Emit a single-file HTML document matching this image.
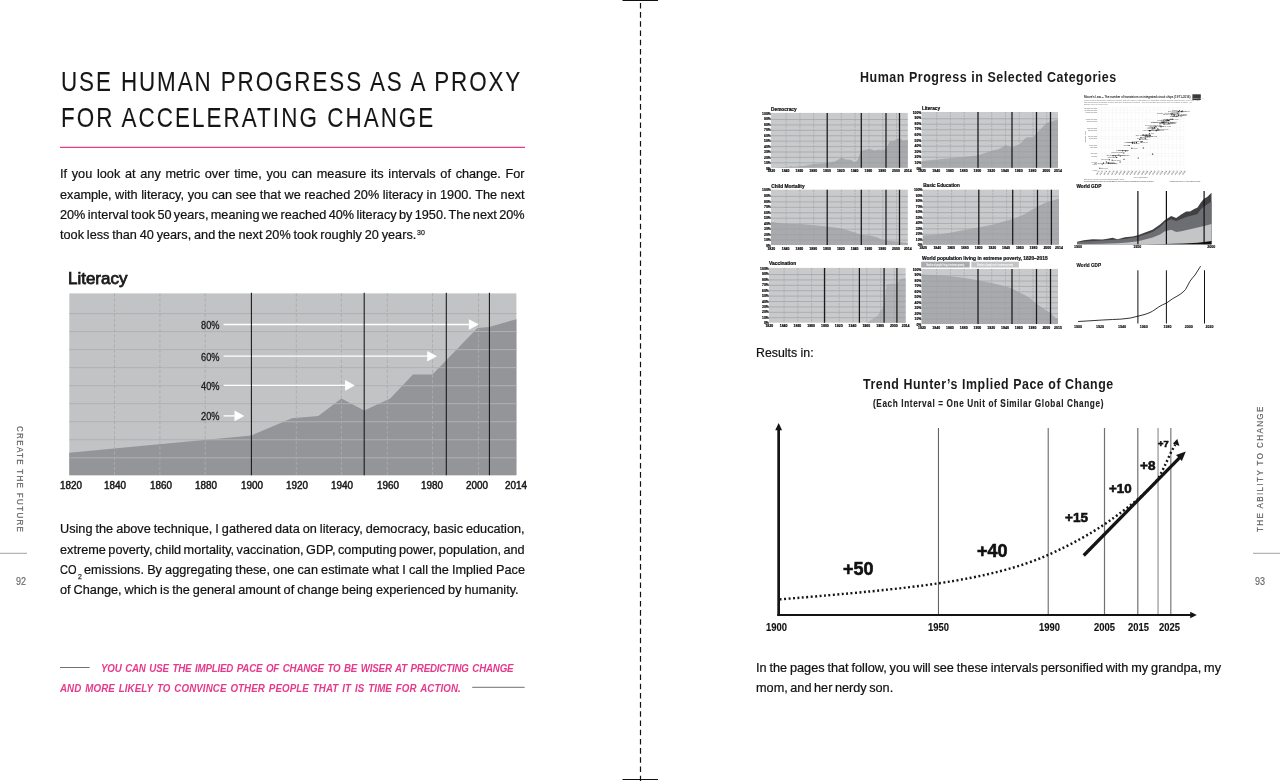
<!DOCTYPE html>
<html lang="en">
<head>
<meta charset="utf-8">
<title>Use Human Progress as a Proxy for Accelerating Change</title>
<style>
html,body{margin:0;padding:0;background:#fff;}
body{width:1280px;height:781px;position:relative;overflow:hidden;font-family:"Liberation Sans",sans-serif;}
.t{position:absolute;white-space:pre;line-height:1;transform-origin:0 0;}
svg.g{position:absolute;left:0;top:0;}
</style>
</head>
<body>
<svg class="g" width="1280" height="781" viewBox="0 0 1280 781">
<g id="frame">
<line x1="640.5" x2="640.5" y1="2.9" y2="781" stroke="#111" stroke-width="1.2" stroke-dasharray="5.55,3.65"/>
<rect x="622.5" y="0" width="35.5" height="1" fill="#111"/>
<rect x="622.5" y="779" width="35.5" height="1" fill="#111"/>
<line x1="60" x2="525" y1="147.4" y2="147.4" stroke="#e6398b" stroke-width="1.1"/>
<line x1="60" x2="89.6" y1="667.5" y2="667.5" stroke="#707072" stroke-width="1"/>
<line x1="472.2" x2="524.6" y1="687.3" y2="687.3" stroke="#707072" stroke-width="1"/>
<line x1="0" x2="27" y1="553.3" y2="553.3" stroke="#999" stroke-width="0.9"/>
<line x1="1253" x2="1280" y1="553.3" y2="553.3" stroke="#999" stroke-width="0.9"/>
</g>
<g id="literacy-chart">
<rect x="69.3" y="293.4" width="447.1" height="181.8" fill="#c2c3c5"/>
<path d="M69.3,475.2 L69.25,452.8 L251.3,435.4 L291.9,418.3 L318.3,415.9 L341.4,398.4 L364.2,410.6 L390.2,398.4 L413,374.4 L432.4,374.4 L477.5,328.1 L489.3,326.9 L516.4,319.2 L516.4,475.2 Z" fill="#949598"/>
<line x1="69.3" x2="516.4" y1="457.80" y2="457.80" stroke="#b0b1b4" stroke-width="1"/>
<line x1="69.3" x2="516.4" y1="439.77" y2="439.77" stroke="#b0b1b4" stroke-width="1"/>
<line x1="69.3" x2="516.4" y1="421.74" y2="421.74" stroke="#b0b1b4" stroke-width="1"/>
<line x1="69.3" x2="516.4" y1="403.71" y2="403.71" stroke="#b0b1b4" stroke-width="1"/>
<line x1="69.3" x2="516.4" y1="385.68" y2="385.68" stroke="#b0b1b4" stroke-width="1"/>
<line x1="69.3" x2="516.4" y1="367.65" y2="367.65" stroke="#b0b1b4" stroke-width="1"/>
<line x1="69.3" x2="516.4" y1="349.62" y2="349.62" stroke="#b0b1b4" stroke-width="1"/>
<line x1="69.3" x2="516.4" y1="331.59" y2="331.59" stroke="#b0b1b4" stroke-width="1"/>
<line x1="69.3" x2="516.4" y1="313.56" y2="313.56" stroke="#b0b1b4" stroke-width="1"/>
<line x1="114.5" x2="114.5" y1="293.4" y2="475.2" stroke="#abacaf" stroke-width="0.9" stroke-dasharray="3.2,1.9"/>
<line x1="159.9" x2="159.9" y1="293.4" y2="475.2" stroke="#abacaf" stroke-width="0.9" stroke-dasharray="3.2,1.9"/>
<line x1="205.2" x2="205.2" y1="293.4" y2="475.2" stroke="#abacaf" stroke-width="0.9" stroke-dasharray="3.2,1.9"/>
<line x1="296.3" x2="296.3" y1="293.4" y2="475.2" stroke="#abacaf" stroke-width="0.9" stroke-dasharray="3.2,1.9"/>
<line x1="341.4" x2="341.4" y1="293.4" y2="475.2" stroke="#abacaf" stroke-width="0.9" stroke-dasharray="3.2,1.9"/>
<line x1="387.3" x2="387.3" y1="293.4" y2="475.2" stroke="#abacaf" stroke-width="0.9" stroke-dasharray="3.2,1.9"/>
<line x1="432.5" x2="432.5" y1="293.4" y2="475.2" stroke="#abacaf" stroke-width="0.9" stroke-dasharray="3.2,1.9"/>
<line x1="478.5" x2="478.5" y1="293.4" y2="475.2" stroke="#abacaf" stroke-width="0.9" stroke-dasharray="3.2,1.9"/>
<line x1="223.6" x2="470.7" y1="324.5" y2="324.5" stroke="#fff" stroke-width="1.3"/>
<path d="M478.7,324.5 L468.9,319.2 L468.9,329.8 Z" fill="#fff"/>
<line x1="223.6" x2="429.0" y1="356.2" y2="356.2" stroke="#fff" stroke-width="1.3"/>
<path d="M437.0,356.2 L427.2,350.9 L427.2,361.5 Z" fill="#fff"/>
<line x1="223.6" x2="346.9" y1="385.4" y2="385.4" stroke="#fff" stroke-width="1.3"/>
<path d="M354.9,385.4 L345.09999999999997,380.09999999999997 L345.09999999999997,390.7 Z" fill="#fff"/>
<line x1="223.6" x2="236.3" y1="415.9" y2="415.9" stroke="#fff" stroke-width="1.3"/>
<path d="M244.3,415.9 L234.5,410.59999999999997 L234.5,421.2 Z" fill="#fff"/>
<line x1="251.4" x2="251.4" y1="292.79999999999995" y2="475.2" stroke="#151515" stroke-width="1.05"/>
<line x1="364.2" x2="364.2" y1="292.79999999999995" y2="475.2" stroke="#151515" stroke-width="1.05"/>
<line x1="446.3" x2="446.3" y1="292.79999999999995" y2="475.2" stroke="#151515" stroke-width="1.05"/>
<line x1="489.4" x2="489.4" y1="292.79999999999995" y2="475.2" stroke="#151515" stroke-width="1.05"/>
</g>
<g id="small-charts">
<rect x="771.0" y="112.9" width="136.8" height="54.9" fill="#c9cacc"/>
<path d="M771.0,167.8 L771.0,167.8 L789.9,166.7 L791.2,165.8 L792.5,166.7 L803.1,166.1 L813.5,164.1 L827.4,163.0 L835.0,161.4 L841.7,157.4 L845.6,159.4 L851.0,159.7 L854.9,162.7 L857.6,160.1 L860.9,150.8 L866.9,149.5 L869.5,148.8 L874.9,150.8 L877.5,149.7 L884.2,150.1 L886.8,147.5 L889.5,141.5 L894.8,140.8 L897.4,138.6 L900.8,138.8 L902.8,140.8 L907.8,139.9 L907.8,167.8 Z" fill="#a9aaad"/>
<path d="M771.0,162.80H907.8 M771.0,157.40H907.8 M771.0,151.99H907.8 M771.0,146.58H907.8 M771.0,141.17H907.8 M771.0,135.77H907.8 M771.0,130.36H907.8 M771.0,124.95H907.8 M771.0,119.54H907.8" stroke="#9c9da0" stroke-width="0.65" fill="none"/>
<path d="M786.10,112.9V167.8 M799.91,112.9V167.8 M813.71,112.9V167.8 M827.51,112.9V167.8 M841.32,112.9V167.8 M855.12,112.9V167.8 M868.92,112.9V167.8 M882.72,112.9V167.8 M896.53,112.9V167.8" stroke="#a0a1a4" stroke-width="0.6" stroke-dasharray="2.2,1.0" fill="none"/>
<path d="M827.2,112.9V167.8 M861.3,112.9V167.8 M886.0,112.9V167.8 M899.5,112.9V167.8" stroke="#1a1a1a" stroke-width="1.25" fill="none"/>
<g font-size="3.4" font-weight="bold" fill="#000" stroke="#000" stroke-width="0.15" text-anchor="end">
<text x="770.8" y="169.5">0%</text>
<text x="770.8" y="164.0">10%</text>
<text x="770.8" y="158.5">20%</text>
<text x="770.8" y="153.0">30%</text>
<text x="770.8" y="147.5">40%</text>
<text x="770.8" y="142.1">50%</text>
<text x="770.8" y="136.6">60%</text>
<text x="770.8" y="131.1">70%</text>
<text x="770.8" y="125.6">80%</text>
<text x="770.8" y="120.1">90%</text>
<text x="770.8" y="114.6">100%</text>
</g>
<g font-size="3.5" font-weight="bold" fill="#000" stroke="#000" stroke-width="0.15" text-anchor="middle">
<text x="771.3" y="172.2">1820</text>
<text x="785.6" y="172.2">1840</text>
<text x="799.4" y="172.2">1860</text>
<text x="813.2" y="172.2">1880</text>
<text x="827.0" y="172.2">1900</text>
<text x="840.8" y="172.2">1920</text>
<text x="854.6" y="172.2">1940</text>
<text x="868.4" y="172.2">1960</text>
<text x="882.2" y="172.2">1980</text>
<text x="896.0" y="172.2">2000</text>
<text x="907.8" y="172.2">2014</text>
</g>
<text x="771.1" y="110.5" font-size="5.4" font-weight="bold" fill="#111" stroke="#111" stroke-width="0.22" textLength="25.5" lengthAdjust="spacingAndGlyphs">Democracy</text>
<rect x="921.6" y="112.0" width="136.4" height="55.8" fill="#c9cacc"/>
<path d="M921.6,167.8 L921.6,161.0 L977.9,155.4 L991.6,150.8 L998.2,149.2 L1006.2,145.2 L1011.9,147.5 L1019.5,144.2 L1026.1,137.5 L1032.8,137.2 L1036.5,133.5 L1046.0,123.6 L1050.4,121.6 L1058.0,119.6 L1058.0,167.8 Z" fill="#a9aaad"/>
<path d="M921.6,162.72H1058.0 M921.6,157.23H1058.0 M921.6,151.73H1058.0 M921.6,146.23H1058.0 M921.6,140.74H1058.0 M921.6,135.24H1058.0 M921.6,129.74H1058.0 M921.6,124.25H1058.0 M921.6,118.75H1058.0" stroke="#9c9da0" stroke-width="0.65" fill="none"/>
<path d="M936.66,112.0V167.8 M950.42,112.0V167.8 M964.18,112.0V167.8 M977.95,112.0V167.8 M991.71,112.0V167.8 M1005.47,112.0V167.8 M1019.24,112.0V167.8 M1033.00,112.0V167.8 M1046.76,112.0V167.8" stroke="#a0a1a4" stroke-width="0.6" stroke-dasharray="2.2,1.0" fill="none"/>
<path d="M978.0,112.0V167.8 M1012.0,112.0V167.8 M1036.5,112.0V167.8 M1050.5,112.0V167.8" stroke="#1a1a1a" stroke-width="1.25" fill="none"/>
<g font-size="3.4" font-weight="bold" fill="#000" stroke="#000" stroke-width="0.15" text-anchor="end">
<text x="921.4" y="169.5">0%</text>
<text x="921.4" y="163.9">10%</text>
<text x="921.4" y="158.3">20%</text>
<text x="921.4" y="152.8">30%</text>
<text x="921.4" y="147.2">40%</text>
<text x="921.4" y="141.6">50%</text>
<text x="921.4" y="136.0">60%</text>
<text x="921.4" y="130.4">70%</text>
<text x="921.4" y="124.9">80%</text>
<text x="921.4" y="119.3">90%</text>
<text x="921.4" y="113.7">100%</text>
</g>
<g font-size="3.5" font-weight="bold" fill="#000" stroke="#000" stroke-width="0.15" text-anchor="middle">
<text x="921.9" y="172.2">1820</text>
<text x="936.2" y="172.2">1840</text>
<text x="949.9" y="172.2">1860</text>
<text x="963.7" y="172.2">1880</text>
<text x="977.4" y="172.2">1900</text>
<text x="991.2" y="172.2">1920</text>
<text x="1005.0" y="172.2">1940</text>
<text x="1018.7" y="172.2">1960</text>
<text x="1032.5" y="172.2">1980</text>
<text x="1046.3" y="172.2">2000</text>
<text x="1058.0" y="172.2">2014</text>
</g>
<text x="921.9" y="110.2" font-size="5.4" font-weight="bold" fill="#111" stroke="#111" stroke-width="0.22" textLength="18.2" lengthAdjust="spacingAndGlyphs">Literacy</text>
<rect x="771.0" y="189.7" width="136.8" height="55.4" fill="#c9cacc"/>
<path d="M771.0,245.1 L771.0,221.9 L784.5,223.8 L803.1,224.2 L813.5,225.2 L827.4,226.5 L841.7,228.5 L848.3,230.5 L854.9,232.5 L861.3,234.9 L869.5,235.4 L876.2,237.1 L881.5,239.4 L886.0,240.5 L896.1,241.5 L899.6,242.0 L907.8,243.1 L907.8,245.1 Z" fill="#a9aaad"/>
<path d="M771.0,240.06H907.8 M771.0,234.60H907.8 M771.0,229.14H907.8 M771.0,223.69H907.8 M771.0,218.23H907.8 M771.0,212.77H907.8 M771.0,207.32H907.8 M771.0,201.86H907.8 M771.0,196.40H907.8" stroke="#9c9da0" stroke-width="0.65" fill="none"/>
<path d="M786.10,189.7V245.1 M799.91,189.7V245.1 M813.71,189.7V245.1 M827.51,189.7V245.1 M841.32,189.7V245.1 M855.12,189.7V245.1 M868.92,189.7V245.1 M882.72,189.7V245.1 M896.53,189.7V245.1" stroke="#a0a1a4" stroke-width="0.6" stroke-dasharray="2.2,1.0" fill="none"/>
<path d="M827.2,189.7V245.1 M861.3,189.7V245.1 M886.0,189.7V245.1 M899.5,189.7V245.1" stroke="#1a1a1a" stroke-width="1.25" fill="none"/>
<g font-size="3.4" font-weight="bold" fill="#000" stroke="#000" stroke-width="0.15" text-anchor="end">
<text x="770.8" y="246.8">0%</text>
<text x="770.8" y="241.3">10%</text>
<text x="770.8" y="235.7">20%</text>
<text x="770.8" y="230.2">30%</text>
<text x="770.8" y="224.6">40%</text>
<text x="770.8" y="219.1">50%</text>
<text x="770.8" y="213.6">60%</text>
<text x="770.8" y="208.0">70%</text>
<text x="770.8" y="202.5">80%</text>
<text x="770.8" y="196.9">90%</text>
<text x="770.8" y="191.4">100%</text>
</g>
<g font-size="3.5" font-weight="bold" fill="#000" stroke="#000" stroke-width="0.15" text-anchor="middle">
<text x="771.3" y="249.5">1820</text>
<text x="785.6" y="249.5">1840</text>
<text x="799.4" y="249.5">1860</text>
<text x="813.2" y="249.5">1880</text>
<text x="827.0" y="249.5">1900</text>
<text x="840.8" y="249.5">1920</text>
<text x="854.6" y="249.5">1940</text>
<text x="868.4" y="249.5">1960</text>
<text x="882.2" y="249.5">1980</text>
<text x="896.0" y="249.5">2000</text>
<text x="907.8" y="249.5">2014</text>
</g>
<text x="771.2" y="188.3" font-size="5.4" font-weight="bold" fill="#111" stroke="#111" stroke-width="0.22" textLength="33.4" lengthAdjust="spacingAndGlyphs">Child Mortality</text>
<rect x="922.8" y="189.7" width="136.2" height="55.0" fill="#c9cacc"/>
<path d="M922.8,244.7 L922.8,235.4 L937.2,234.5 L951.8,232.5 L965.1,229.8 L978.7,227.4 L993.0,224.5 L1006.2,220.8 L1012.8,218.9 L1019.5,216.5 L1026.2,213.2 L1032.8,209.2 L1037.5,206.6 L1046.1,202.6 L1051.4,200.9 L1059.0,198.6 L1059.0,244.7 Z" fill="#a9aaad"/>
<path d="M922.8,239.69H1059.0 M922.8,234.28H1059.0 M922.8,228.86H1059.0 M922.8,223.44H1059.0 M922.8,218.02H1059.0 M922.8,212.61H1059.0 M922.8,207.19H1059.0 M922.8,201.77H1059.0 M922.8,196.35H1059.0" stroke="#9c9da0" stroke-width="0.65" fill="none"/>
<path d="M937.84,189.7V244.7 M951.58,189.7V244.7 M965.32,189.7V244.7 M979.06,189.7V244.7 M992.81,189.7V244.7 M1006.55,189.7V244.7 M1020.29,189.7V244.7 M1034.03,189.7V244.7 M1047.78,189.7V244.7" stroke="#a0a1a4" stroke-width="0.6" stroke-dasharray="2.2,1.0" fill="none"/>
<path d="M978.8,189.7V244.7 M1012.7,189.7V244.7 M1037.5,189.7V244.7 M1051.4,189.7V244.7" stroke="#1a1a1a" stroke-width="1.25" fill="none"/>
<g font-size="3.4" font-weight="bold" fill="#000" stroke="#000" stroke-width="0.15" text-anchor="end">
<text x="922.6" y="246.4">0%</text>
<text x="922.6" y="240.9">10%</text>
<text x="922.6" y="235.4">20%</text>
<text x="922.6" y="229.9">30%</text>
<text x="922.6" y="224.4">40%</text>
<text x="922.6" y="218.9">50%</text>
<text x="922.6" y="213.4">60%</text>
<text x="922.6" y="207.9">70%</text>
<text x="922.6" y="202.4">80%</text>
<text x="922.6" y="196.9">90%</text>
<text x="922.6" y="191.4">100%</text>
</g>
<g font-size="3.5" font-weight="bold" fill="#000" stroke="#000" stroke-width="0.15" text-anchor="middle">
<text x="923.1" y="249.1">1820</text>
<text x="937.3" y="249.1">1840</text>
<text x="951.1" y="249.1">1860</text>
<text x="964.8" y="249.1">1880</text>
<text x="978.6" y="249.1">1900</text>
<text x="992.3" y="249.1">1920</text>
<text x="1006.0" y="249.1">1940</text>
<text x="1019.8" y="249.1">1960</text>
<text x="1033.5" y="249.1">1980</text>
<text x="1047.3" y="249.1">2000</text>
<text x="1059.0" y="249.1">2014</text>
</g>
<text x="923.2" y="187.2" font-size="5.4" font-weight="bold" fill="#111" stroke="#111" stroke-width="0.22" textLength="36.6" lengthAdjust="spacingAndGlyphs">Basic Education</text>
<rect x="769.0" y="267.9" width="136.6" height="54.8" fill="#c9cacc"/>
<path d="M866.8,322.7 L866.8,322.7 L877.5,315.8 L882.8,307.8 L884.1,303.8 L886.7,284.5 L889.4,283.9 L892.7,283.6 L894.1,284.5 L896.0,283.2 L896.8,283.9 L900.0,279.2 L905.6,277.9 L905.6,322.7 Z" fill="#b1b2b5"/>
<path d="M769.0,317.71H905.6 M769.0,312.32H905.6 M769.0,306.92H905.6 M769.0,301.52H905.6 M769.0,296.12H905.6 M769.0,290.72H905.6 M769.0,285.33H905.6 M769.0,279.93H905.6 M769.0,274.53H905.6" stroke="#9c9da0" stroke-width="0.65" fill="none"/>
<path d="M784.08,267.9V322.7 M797.86,267.9V322.7 M811.65,267.9V322.7 M825.43,267.9V322.7 M839.21,267.9V322.7 M853.00,267.9V322.7 M866.78,267.9V322.7 M880.56,267.9V322.7 M894.34,267.9V322.7" stroke="#a0a1a4" stroke-width="0.6" stroke-dasharray="2.2,1.0" fill="none"/>
<path d="M824.5,267.9V322.7 M859.4,267.9V322.7 M884.1,267.9V322.7 M896.9,267.9V322.7" stroke="#1a1a1a" stroke-width="1.25" fill="none"/>
<g font-size="3.4" font-weight="bold" fill="#000" stroke="#000" stroke-width="0.15" text-anchor="end">
<text x="768.8" y="324.4">0%</text>
<text x="768.8" y="318.9">10%</text>
<text x="768.8" y="313.4">20%</text>
<text x="768.8" y="308.0">30%</text>
<text x="768.8" y="302.5">40%</text>
<text x="768.8" y="297.0">50%</text>
<text x="768.8" y="291.5">60%</text>
<text x="768.8" y="286.0">70%</text>
<text x="768.8" y="280.6">80%</text>
<text x="768.8" y="275.1">90%</text>
<text x="768.8" y="269.6">100%</text>
</g>
<g font-size="3.5" font-weight="bold" fill="#000" stroke="#000" stroke-width="0.15" text-anchor="middle">
<text x="769.3" y="327.1">1820</text>
<text x="783.6" y="327.1">1840</text>
<text x="797.4" y="327.1">1860</text>
<text x="811.1" y="327.1">1880</text>
<text x="824.9" y="327.1">1900</text>
<text x="838.7" y="327.1">1920</text>
<text x="852.5" y="327.1">1940</text>
<text x="866.3" y="327.1">1960</text>
<text x="880.1" y="327.1">1980</text>
<text x="893.8" y="327.1">2000</text>
<text x="905.6" y="327.1">2014</text>
</g>
<text x="769.0" y="264.8" font-size="5.4" font-weight="bold" fill="#111" stroke="#111" stroke-width="0.22" textLength="27.2" lengthAdjust="spacingAndGlyphs">Vaccination</text>
<rect x="921.6" y="268.9" width="136.4" height="55.2" fill="#c9cacc"/>
<path d="M921.6,324.1 L921.6,274.6 L937.1,275.3 L953.1,276.6 L965.0,277.9 L977.9,280.3 L992.9,283.2 L1006.2,286.5 L1011.9,288.5 L1019.5,292.5 L1026.1,295.8 L1031.4,299.2 L1036.5,303.8 L1043.4,308.4 L1050.4,313.1 L1055.3,317.7 L1058.0,318.4 L1058.0,324.1 Z" fill="#a9aaad"/>
<path d="M921.6,319.08H1058.0 M921.6,313.64H1058.0 M921.6,308.20H1058.0 M921.6,302.77H1058.0 M921.6,297.33H1058.0 M921.6,291.89H1058.0 M921.6,286.45H1058.0 M921.6,281.02H1058.0 M921.6,275.58H1058.0" stroke="#9c9da0" stroke-width="0.65" fill="none"/>
<path d="M936.66,268.9V324.1 M950.42,268.9V324.1 M964.18,268.9V324.1 M977.95,268.9V324.1 M991.71,268.9V324.1 M1005.47,268.9V324.1 M1019.24,268.9V324.1 M1033.00,268.9V324.1 M1046.76,268.9V324.1" stroke="#a0a1a4" stroke-width="0.6" stroke-dasharray="2.2,1.0" fill="none"/>
<path d="M978.0,268.9V324.1 M1012.0,268.9V324.1 M1036.5,268.9V324.1 M1050.5,268.9V324.1" stroke="#1a1a1a" stroke-width="1.25" fill="none"/>
<g font-size="3.4" font-weight="bold" fill="#000" stroke="#000" stroke-width="0.15" text-anchor="end">
<text x="921.4" y="325.8">0%</text>
<text x="921.4" y="320.3">10%</text>
<text x="921.4" y="314.8">20%</text>
<text x="921.4" y="309.2">30%</text>
<text x="921.4" y="303.7">40%</text>
<text x="921.4" y="298.2">50%</text>
<text x="921.4" y="292.7">60%</text>
<text x="921.4" y="287.2">70%</text>
<text x="921.4" y="281.6">80%</text>
<text x="921.4" y="276.1">90%</text>
<text x="921.4" y="270.6">100%</text>
</g>
<g font-size="3.5" font-weight="bold" fill="#000" stroke="#000" stroke-width="0.15" text-anchor="middle">
<text x="921.9" y="328.5">1820</text>
<text x="936.2" y="328.5">1840</text>
<text x="949.9" y="328.5">1860</text>
<text x="963.7" y="328.5">1880</text>
<text x="977.4" y="328.5">1900</text>
<text x="991.2" y="328.5">1920</text>
<text x="1005.0" y="328.5">1940</text>
<text x="1018.7" y="328.5">1960</text>
<text x="1032.5" y="328.5">1980</text>
<text x="1046.3" y="328.5">2000</text>
<text x="1058.0" y="328.5">2015</text>
</g>
<text x="921.9" y="260.3" font-size="5.4" font-weight="bold" fill="#111" stroke="#111" stroke-width="0.22" textLength="125.8" lengthAdjust="spacingAndGlyphs">World population living in extreme poverty, 1820–2015</text>
<rect x="921.2" y="261.7" width="48.5" height="5.8" fill="#a9aaad"/>
<rect x="971.3" y="261.7" width="47.6" height="5.8" fill="#c3c4c6"/>
<text x="945.4" y="265.6" font-size="2.6" font-weight="bold" fill="#fff" text-anchor="middle" textLength="38" lengthAdjust="spacingAndGlyphs">Number of people living in extreme poverty</text>
<text x="995.1" y="265.6" font-size="2.6" font-weight="bold" fill="#fff" text-anchor="middle" textLength="36" lengthAdjust="spacingAndGlyphs">Number of people not in extreme poverty</text>
<text x="1083.9" y="98.0" font-size="3.6" fill="#222" stroke="#222" stroke-width="0.08" textLength="106.6" lengthAdjust="spacingAndGlyphs">Moore’s Law – The number of transistors on integrated circuit chips (1971-2016)</text>
<rect x="1192.4" y="94.3" width="8.4" height="5.7" fill="#3a3a3c"/>
<text x="1196.6" y="98.6" font-size="1.9" fill="#ddd" text-anchor="middle">Our World in Data</text>
<g font-size="1.7" fill="#777">
<text x="1083.9" y="100.6" textLength="116" lengthAdjust="spacingAndGlyphs">Moore’s law describes the empirical regularity that the number of transistors on integrated circuits doubles approximately every two years.</text>
<text x="1083.9" y="102.7" textLength="108" lengthAdjust="spacingAndGlyphs">This advancement is important as other aspects of technological progress – such as processing speed or the price of electronic products – are</text>
<text x="1083.9" y="104.8" textLength="24" lengthAdjust="spacingAndGlyphs">strongly linked to Moore’s law.</text>
</g>
<path d="M1097.7,107.6V171.6 M1101.4,107.6V171.6 M1105.2,107.6V171.6 M1108.9,107.6V171.6 M1112.7,107.6V171.6 M1116.4,107.6V171.6 M1120.2,107.6V171.6 M1123.9,107.6V171.6 M1127.7,107.6V171.6 M1131.4,107.6V171.6 M1135.2,107.6V171.6 M1138.9,107.6V171.6 M1142.7,107.6V171.6 M1146.4,107.6V171.6 M1150.2,107.6V171.6 M1153.9,107.6V171.6 M1157.7,107.6V171.6 M1161.4,107.6V171.6 M1165.2,107.6V171.6 M1168.9,107.6V171.6 M1172.7,107.6V171.6 M1176.4,107.6V171.6 M1180.2,107.6V171.6 M1183.9,107.6V171.6 M1097.7,107.9H1183.9 M1097.7,110.2H1183.9 M1097.7,112.6H1183.9 M1097.7,119.2H1183.9 M1097.7,121.6H1183.9 M1097.7,127.9H1183.9 M1097.7,130.3H1183.9 M1097.7,136.4H1183.9 M1097.7,138.8H1183.9 M1097.7,145.0H1183.9 M1097.7,147.4H1183.9 M1097.7,153.4H1183.9 M1097.7,155.9H1183.9 M1097.7,162.0H1183.9 M1097.7,164.4H1183.9 M1097.7,170.6H1183.9" stroke="#d9d9dc" stroke-width="0.3" stroke-dasharray="0.6,0.5" fill="none"/>
<g font-size="1.8" fill="#555" text-anchor="end">
<text x="1096.9" y="108.5">20,000,000,000</text>
<text x="1096.9" y="110.8">10,000,000,000</text>
<text x="1096.9" y="113.2">5,000,000,000</text>
<text x="1096.9" y="119.8">1,000,000,000</text>
<text x="1096.9" y="122.2">500,000,000</text>
<text x="1096.9" y="128.5">100,000,000</text>
<text x="1096.9" y="130.9">50,000,000</text>
<text x="1096.9" y="137.0">10,000,000</text>
<text x="1096.9" y="139.4">5,000,000</text>
<text x="1096.9" y="145.6">1,000,000</text>
<text x="1096.9" y="148.0">500,000</text>
<text x="1096.9" y="154.0">100,000</text>
<text x="1096.9" y="156.5">50,000</text>
<text x="1096.9" y="162.6">10,000</text>
<text x="1096.9" y="165.0">5,000</text>
<text x="1096.9" y="171.2">1,000</text>
</g>
<text transform="translate(1085.6,137) rotate(-90)" font-size="1.7" fill="#666" text-anchor="middle">Transistor count</text>
<g font-size="2.1" fill="#333">
<text transform="translate(1096.9,175.2) rotate(-55)">1970</text>
<text transform="translate(1100.6,175.2) rotate(-55)">1972</text>
<text transform="translate(1104.4,175.2) rotate(-55)">1974</text>
<text transform="translate(1108.1,175.2) rotate(-55)">1976</text>
<text transform="translate(1111.9,175.2) rotate(-55)">1978</text>
<text transform="translate(1115.6,175.2) rotate(-55)">1980</text>
<text transform="translate(1119.4,175.2) rotate(-55)">1982</text>
<text transform="translate(1123.1,175.2) rotate(-55)">1984</text>
<text transform="translate(1126.9,175.2) rotate(-55)">1986</text>
<text transform="translate(1130.6,175.2) rotate(-55)">1988</text>
<text transform="translate(1134.4,175.2) rotate(-55)">1990</text>
<text transform="translate(1138.1,175.2) rotate(-55)">1992</text>
<text transform="translate(1141.9,175.2) rotate(-55)">1994</text>
<text transform="translate(1145.6,175.2) rotate(-55)">1996</text>
<text transform="translate(1149.4,175.2) rotate(-55)">1998</text>
<text transform="translate(1153.1,175.2) rotate(-55)">2000</text>
<text transform="translate(1156.9,175.2) rotate(-55)">2002</text>
<text transform="translate(1160.6,175.2) rotate(-55)">2004</text>
<text transform="translate(1164.4,175.2) rotate(-55)">2006</text>
<text transform="translate(1168.1,175.2) rotate(-55)">2008</text>
<text transform="translate(1171.9,175.2) rotate(-55)">2010</text>
<text transform="translate(1175.6,175.2) rotate(-55)">2012</text>
<text transform="translate(1179.4,175.2) rotate(-55)">2014</text>
<text transform="translate(1183.1,175.2) rotate(-55)">2016</text>
</g>
<text x="1140.5" y="177.9" font-size="1.7" fill="#666" text-anchor="middle">Year of introduction</text>
<g font-size="1.7" fill="#4a4a4a">
<text x="1100.6" y="168.8">Intel 4004</text>
<text x="1101.4" y="164.4" text-anchor="end">Intel 8008</text>
<text x="1104.3" y="163.6">Motorola 6800</text>
<text x="1107.2" y="162.5">Intel 8080</text>
<text x="1109.4" y="163.6">MOS 6502</text>
<text x="1109.2" y="163.6">Zilog Z80</text>
<text x="1108.6" y="160.2" text-anchor="end">Intel 8086</text>
<text x="1113.0" y="160.7">Intel 8088</text>
<text x="1113.8" y="156.3">Motorola 68000</text>
<text x="1114.8" y="156.4" text-anchor="end">Intel 80186</text>
<text x="1115.9" y="157.9" text-anchor="end">Intel 80286</text>
<text x="1118.0" y="155.5" text-anchor="end">ARM 1</text>
<text x="1121.1" y="156.4">Intel 80386</text>
<text x="1123.5" y="151.2">ARM 2</text>
<text x="1123.0" y="153.4" text-anchor="end">Motorola 68020</text>
<text x="1124.6" y="151.4" text-anchor="end">TI Explorer</text>
<text x="1126.3" y="151.2" text-anchor="end">Intel 80486</text>
<text x="1128.3" y="146.0" text-anchor="end">ARM 3</text>
<text x="1132.6" y="148.7">R4000</text>
<text x="1133.2" y="143.6">Pentium</text>
<text x="1131.7" y="142.8" text-anchor="end">ARM 6</text>
<text x="1133.6" y="143.4" text-anchor="end">Pentium Pro</text>
<text x="1135.7" y="143.1" text-anchor="end">AMD K5</text>
<text x="1140.6" y="140.0">Pentium II</text>
<text x="1141.9" y="142.7">AMD K6</text>
<text x="1141.8" y="137.9">Pentium III</text>
<text x="1143.9" y="135.3">AMD K7</text>
<text x="1144.5" y="139.3" text-anchor="end">Pentium 4</text>
<text x="1148.0" y="136.6">Barton</text>
<text x="1148.8" y="136.2" text-anchor="end">Itanium 2</text>
<text x="1149.0" y="131.4" text-anchor="end">AMD K8</text>
<text x="1151.1" y="131.0">Core 2 Duo</text>
<text x="1153.0" y="128.6">Cell</text>
<text x="1153.6" y="127.7" text-anchor="end">Power6</text>
<text x="1156.8" y="127.4">AMD K10</text>
<text x="1156.6" y="129.5" text-anchor="end">Core i7</text>
<text x="1160.8" y="124.3">Six-core Opteron</text>
<text x="1161.8" y="127.1">8-core Xeon</text>
<text x="1164.8" y="124.6">Power7</text>
<text x="1163.1" y="123.1" text-anchor="end">Quad-core z196</text>
<text x="1168.3" y="120.4">10-core Xeon</text>
<text x="1167.8" y="121.1" text-anchor="end">Ivy Bridge</text>
<text x="1168.3" y="121.3" text-anchor="end">Xbox One SoC</text>
<text x="1171.9" y="119.8" text-anchor="end">Apple A8X</text>
<text x="1173.8" y="116.7">SPARC M7</text>
<text x="1173.1" y="115.2" text-anchor="end">22-core Xeon</text>
<text x="1176.0" y="116.9" text-anchor="end">IBM z13</text>
<text x="1179.1" y="112.0">Apple A7</text>
<text x="1178.0" y="113.5" text-anchor="end">Haswell-E</text>
<text x="1180.9" y="112.1" text-anchor="end">Duo-core Itanium</text>
<text x="1141.3" y="142.1" text-anchor="end">Pentium D</text>
<text x="1146.1" y="137.2">Itanium 2 9MB</text>
<text x="1145.3" y="135.7" text-anchor="end">Core 2 Quad</text>
<text x="1150.2" y="134.2">Atom</text>
<text x="1149.5" y="135.7" text-anchor="end">POWER8</text>
<text x="1150.0" y="130.9">Broadwell-U</text>
<text x="1153.4" y="128.8" text-anchor="end">Apple A9</text>
<text x="1157.1" y="131.1">Xeon Phi</text>
<text x="1155.1" y="126.9" text-anchor="end">Tegra 4</text>
<text x="1159.1" y="129.7">Nehalem-EX</text>
<text x="1160.0" y="126.4" text-anchor="end">Dual-core Itanium 2</text>
<text x="1163.6" y="123.3">Core i7 Haswell</text>
<text x="1161.0" y="123.0" text-anchor="end">Ivy Bridge-EX</text>
<text x="1164.8" y="122.6">Sandy Bridge-E</text>
<text x="1166.1" y="121.5" text-anchor="end">zEC12</text>
<text x="1169.0" y="123.7">Bulldozer</text>
<text x="1170.1" y="119.8" text-anchor="end">AMD K6-III</text>
<text x="1172.4" y="115.2">Pentium III Tualatin</text>
<text x="1171.3" y="114.0" text-anchor="end">Pentium 4 Prescott</text>
<text x="1175.2" y="115.6">ARM Cortex-A9</text>
<text x="1176.4" y="113.4" text-anchor="end">Xenon</text>
<text x="1179.3" y="115.6">Wolfdale</text>
<text x="1178.7" y="111.3" text-anchor="end">Power6+</text>
<text x="1183.0" y="111.6">Piledriver</text>
</g>
<path d="M1099.8,168.3h0.01 M1102.2,163.9h0.01 M1103.5,163.1h0.01 M1106.4,162.0h0.01 M1108.6,163.1h0.01 M1108.4,163.1h0.01 M1109.4,159.7h0.01 M1112.2,160.2h0.01 M1113.0,155.8h0.01 M1115.6,155.9h0.01 M1116.7,157.4h0.01 M1118.8,155.0h0.01 M1120.3,155.9h0.01 M1122.7,150.7h0.01 M1123.8,152.9h0.01 M1125.4,150.9h0.01 M1127.1,150.7h0.01 M1129.1,145.5h0.01 M1131.8,148.2h0.01 M1132.4,143.1h0.01 M1132.5,142.3h0.01 M1134.4,142.9h0.01 M1136.5,142.6h0.01 M1139.8,139.5h0.01 M1141.1,142.2h0.01 M1141.0,137.4h0.01 M1143.1,134.8h0.01 M1145.3,138.8h0.01 M1147.2,136.1h0.01 M1149.6,135.7h0.01 M1149.8,130.9h0.01 M1150.3,130.5h0.01 M1152.2,128.1h0.01 M1154.4,127.2h0.01 M1156.0,126.9h0.01 M1157.4,129.0h0.01 M1160.0,123.8h0.01 M1161.0,126.6h0.01 M1164.0,124.1h0.01 M1163.9,122.6h0.01 M1167.5,119.9h0.01 M1168.6,120.6h0.01 M1169.1,120.8h0.01 M1172.7,119.3h0.01 M1173.0,116.2h0.01 M1173.9,114.7h0.01 M1176.8,116.4h0.01 M1178.3,111.5h0.01 M1178.8,113.0h0.01 M1181.7,111.6h0.01 M1142.1,141.6h0.01 M1145.3,136.7h0.01 M1146.1,135.2h0.01 M1149.4,133.7h0.01 M1150.3,135.2h0.01 M1149.2,130.4h0.01 M1154.2,128.3h0.01 M1156.3,130.6h0.01 M1155.9,126.4h0.01 M1158.3,129.2h0.01 M1160.8,125.9h0.01 M1162.8,122.8h0.01 M1161.8,122.5h0.01 M1164.0,122.1h0.01 M1166.9,121.0h0.01 M1168.2,123.2h0.01 M1170.9,119.3h0.01 M1171.6,114.7h0.01 M1172.1,113.5h0.01 M1174.4,115.1h0.01 M1177.2,112.9h0.01 M1178.5,115.1h0.01 M1179.5,110.8h0.01 M1182.2,111.1h0.01" stroke="#1a1a1a" stroke-width="1.05" stroke-linecap="square" fill="none"/>
<path d="M1143.4,146.9l0.9,1.6h-1.8Z M1152.6,152.9l0.9,1.8h-1.8Z M1138.2,157.0l0.8,1.5h-1.6Z M1120.1,161.0l0.8,1.5h-1.6Z M1124.0,158.5l0.8,1.5h-1.6Z" fill="#444"/>
<g font-size="1.6" fill="#666">
<text x="1083.9" y="179.6" textLength="40" lengthAdjust="spacingAndGlyphs">Data source: Wikipedia (wikipedia.org/wiki/Transistor_count)</text>
<text x="1083.9" y="181.6" textLength="70" lengthAdjust="spacingAndGlyphs" fill="#333">The data visualization is available at OurWorldinData.org. There you find more visualizations and research on this topic.</text>
<text x="1200.6" y="181.6" text-anchor="end" textLength="31" lengthAdjust="spacingAndGlyphs" fill="#333">Licensed under CC-BY-SA by the author Max Roser.</text>
</g>
<path d="M1077.1,241.8 L1083.8,240.2 L1092.5,239.2 L1102.5,239.5 L1107.5,238.8 L1112.5,237.8 L1117.5,239.2 L1125.0,237.2 L1132.5,236.5 L1137.9,235.2 L1145.0,232.5 L1152.5,229.8 L1160.0,224.5 L1165.0,220.0 L1171.2,216.0 L1176.2,218.0 L1181.2,214.5 L1186.2,211.5 L1190.0,211.5 L1193.8,209.2 L1197.5,207.5 L1201.2,202.0 L1204.1,198.8 L1207.5,196.8 L1211.5,192.8 L1211.5,244.3 L1077.1,244.3 Z" fill="#414143"/>
<path d="M1077.1,242.0 L1102.5,240.5 L1125.0,239.0 L1137.9,236.8 L1145.0,234.5 L1152.5,232.0 L1160.0,227.0 L1165.0,222.0 L1171.2,219.2 L1176.2,221.1 L1181.2,219.0 L1186.2,217.0 L1193.8,215.0 L1197.5,214.0 L1201.2,208.8 L1204.1,206.5 L1211.5,201.5 L1211.5,244.3 L1077.1,244.3 Z" fill="#6d6e71"/>
<path d="M1077.1,244.2 L1102.5,243.8 L1117.5,243.2 L1127.5,242.5 L1137.9,241.2 L1145.0,239.5 L1152.5,237.5 L1160.0,234.5 L1165.0,231.2 L1171.2,229.8 L1176.2,232.0 L1181.2,231.2 L1190.0,229.2 L1197.5,227.5 L1204.1,226.0 L1211.5,224.0 L1211.5,244.3 L1077.1,244.3 Z" fill="#c4c5c7"/>
<path d="M1145.0,244.2 L1165.0,243.9 L1183.8,243.4 L1197.5,242.8 L1204.1,242.1 L1211.5,241.1 L1211.5,244.3 L1145.0,244.3 Z" fill="#111"/>
<path d="M1137.9,191.1V244.3 M1166.4,191.1V244.3 M1204.1,191.1V244.3" stroke="#111" stroke-width="1.2" fill="none"/>
<g font-size="3.6" font-weight="bold" fill="#000" stroke="#000" stroke-width="0.12" text-anchor="middle">
<text x="1078.0" y="248.4">1900</text>
<text x="1137.2" y="248.4">1950</text>
<text x="1211.2" y="248.4">2000</text>
</g>
<text x="1076.5" y="188.0" font-size="5.4" font-weight="bold" fill="#111" stroke="#111" stroke-width="0.22" textLength="24.8" lengthAdjust="spacingAndGlyphs">World GDP</text>
<path d="M1078.1,321.5 L1090.0,320.8 L1102.5,320.0 L1112.5,319.5 L1121.2,319.1 L1130.0,318.1 L1137.9,316.2 L1145.0,314.4 L1150.0,312.5 L1152.5,311.2 L1158.8,306.9 L1162.5,304.8 L1166.4,303.1 L1172.5,298.8 L1180.0,294.4 L1183.1,292.0 L1185.6,289.4 L1190.0,281.2 L1192.5,277.9 L1195.0,275.0 L1200.6,266.2" fill="none" stroke="#111" stroke-width="0.85" stroke-linejoin="round"/>
<path d="M1137.9,270.3V323.5 M1166.4,270.3V323.5 M1204.5,270.3V323.5" stroke="#111" stroke-width="1.0" fill="none"/>
<g font-size="3.6" font-weight="bold" fill="#000" stroke="#000" stroke-width="0.12" text-anchor="middle">
<text x="1078.0" y="327.8">1900</text>
<text x="1100.0" y="327.8">1920</text>
<text x="1121.9" y="327.8">1940</text>
<text x="1143.8" y="327.8">1960</text>
<text x="1167.5" y="327.8">1980</text>
<text x="1188.8" y="327.8">2000</text>
<text x="1209.4" y="327.8">2020</text>
</g>
<text x="1076.5" y="266.6" font-size="5.0" font-weight="bold" fill="#111" stroke="#111" stroke-width="0.12" textLength="24.6" lengthAdjust="spacingAndGlyphs">World GDP</text>
</g>
<g id="pace-chart">
<line x1="938.45" x2="938.45" y1="428.0" y2="615.05" stroke="#58585a" stroke-width="1.0"/>
<line x1="1048.2" x2="1048.2" y1="428.0" y2="615.05" stroke="#5a5a5c" stroke-width="1.0"/>
<line x1="1104.5" x2="1104.5" y1="428.0" y2="615.05" stroke="#707072" stroke-width="1.2"/>
<line x1="1137.8" x2="1137.8" y1="428.0" y2="615.05" stroke="#707072" stroke-width="1.2"/>
<line x1="1158.05" x2="1158.05" y1="428.0" y2="615.05" stroke="#9c9c9e" stroke-width="1.3"/>
<line x1="1170.8" x2="1170.8" y1="428.0" y2="615.05" stroke="#848486" stroke-width="1.3"/>
<path d="M779.5,599.4 C850,593.6 900,589 938.1,583.4 C985,576.4 1020,567.4 1048.2,554.9 C1072,544.2 1090,534 1104.5,524.3 C1118,515 1128,507.4 1137.8,499.3 C1146,492.4 1152.6,486 1158,478.9 C1162.6,470.6 1166.6,462 1170.8,452.7 L1175.2,444.6" fill="none" stroke="#141414" stroke-width="2.45" stroke-dasharray="1.95,2.5"/>
<path d="M1177.3,439.0 L1179.4,446.0 L1172.9,443.5 Z" fill="#141414"/>
<line x1="1083.7" y1="555.5" x2="1180.2" y2="457.1" stroke="#141414" stroke-width="3.25"/>
<path d="M1185.8,451.4 L1181.9,460.9 L1176.0,455.0 Z" fill="#141414"/>
<line x1="778.65" x2="778.65" y1="429.5" y2="616.05" stroke="#141414" stroke-width="2.7"/>
<path d="M778.65,422.9 L782.1,430.3 L775.2,430.3 Z" fill="#141414"/>
<line x1="777.3" x2="1191" y1="615.05" y2="615.05" stroke="#141414" stroke-width="2.0"/>
<path d="M1196.8,615.05 L1190.2,611.8499999999999 L1190.2,618.25 Z" fill="#141414"/>
</g>
</svg>
<div class="t" style="left:60.80px;top:68.28px;transform:scaleX(0.8000);color:#151515;font-size:28px;letter-spacing:2.388px;-webkit-text-stroke:0.1px;">USE HUMAN PROGRESS AS A PROXY</div>
<div class="t" style="left:60.80px;top:103.74px;transform:scaleX(0.8000);color:#151515;font-size:28px;letter-spacing:2.578px;-webkit-text-stroke:0.1px;">FOR ACCELERATING CHANGE</div>
<div class="t" style="left:60.40px;top:167.14px;transform:scaleX(0.9550);color:#111;font-size:13.3px;word-spacing:1.244px;-webkit-text-stroke:0.22px;">If you look at any metric over time, you can measure its intervals of change. For</div>
<div class="t" style="left:60.40px;top:188.09px;transform:scaleX(0.9550);color:#111;font-size:13.3px;word-spacing:0.045px;-webkit-text-stroke:0.22px;">example, with literacy, you can see that we reached 20% literacy in 1900. The next</div>
<div class="t" style="left:60.40px;top:207.84px;transform:scaleX(0.9550);color:#111;font-size:13.3px;word-spacing:-1.241px;-webkit-text-stroke:0.22px;">20% interval took 50 years, meaning we reached 40% literacy by 1950. The next 20%</div>
<div class="t" style="left:60.40px;top:228.24px;transform:scaleX(0.9550);color:#111;font-size:13.3px;word-spacing:-0.756px;-webkit-text-stroke:0.22px;">took less than 40 years, and the next 20% took roughly 20 years.</div>
<div class="t" style="left:417.20px;top:228.90px;transform:scaleX(0.8978);color:#222;font-size:7.8px;-webkit-text-stroke:0.25px;">30</div>
<div class="t" style="left:68.40px;top:270.84px;transform:scaleX(1.0676);color:#1a1a1a;font-size:15.9px;-webkit-text-stroke:0.75px;">Literacy</div>
<div class="t" style="left:200.60px;top:320.64px;transform:scaleX(0.9243);color:#1c1c1e;font-size:10.0px;-webkit-text-stroke:0.3px;">80%</div>
<div class="t" style="left:200.60px;top:352.98px;transform:scaleX(0.9243);color:#1c1c1e;font-size:10.0px;-webkit-text-stroke:0.3px;">60%</div>
<div class="t" style="left:200.60px;top:381.54px;transform:scaleX(0.9243);color:#1c1c1e;font-size:10.0px;-webkit-text-stroke:0.3px;">40%</div>
<div class="t" style="left:200.60px;top:412.04px;transform:scaleX(0.9243);color:#1c1c1e;font-size:10.0px;-webkit-text-stroke:0.3px;">20%</div>
<div class="t" style="left:59.90px;top:480.54px;transform:scaleX(0.9888);color:#1a1a1a;font-size:10.0px;-webkit-text-stroke:0.48px;">1820</div>
<div class="t" style="left:103.80px;top:480.54px;transform:scaleX(0.9888);color:#1a1a1a;font-size:10.0px;-webkit-text-stroke:0.48px;">1840</div>
<div class="t" style="left:149.60px;top:480.54px;transform:scaleX(0.9888);color:#1a1a1a;font-size:10.0px;-webkit-text-stroke:0.48px;">1860</div>
<div class="t" style="left:195.00px;top:480.54px;transform:scaleX(0.9888);color:#1a1a1a;font-size:10.0px;-webkit-text-stroke:0.48px;">1880</div>
<div class="t" style="left:240.60px;top:480.54px;transform:scaleX(0.9888);color:#1a1a1a;font-size:10.0px;-webkit-text-stroke:0.48px;">1900</div>
<div class="t" style="left:285.60px;top:480.54px;transform:scaleX(0.9888);color:#1a1a1a;font-size:10.0px;-webkit-text-stroke:0.48px;">1920</div>
<div class="t" style="left:330.60px;top:480.54px;transform:scaleX(0.9888);color:#1a1a1a;font-size:10.0px;-webkit-text-stroke:0.48px;">1940</div>
<div class="t" style="left:376.60px;top:480.54px;transform:scaleX(0.9888);color:#1a1a1a;font-size:10.0px;-webkit-text-stroke:0.48px;">1960</div>
<div class="t" style="left:421.40px;top:480.54px;transform:scaleX(0.9888);color:#1a1a1a;font-size:10.0px;-webkit-text-stroke:0.48px;">1980</div>
<div class="t" style="left:465.80px;top:480.54px;transform:scaleX(0.9888);color:#1a1a1a;font-size:10.0px;-webkit-text-stroke:0.48px;">2000</div>
<div class="t" style="left:504.60px;top:480.54px;transform:scaleX(0.9888);color:#1a1a1a;font-size:10.0px;-webkit-text-stroke:0.48px;">2014</div>
<div class="t" style="left:60.40px;top:522.14px;transform:scaleX(0.9550);color:#111;font-size:13.3px;word-spacing:-0.549px;-webkit-text-stroke:0.22px;">Using the above technique, I gathered data on literacy, democracy, basic education,</div>
<div class="t" style="left:60.40px;top:542.54px;transform:scaleX(0.9550);color:#111;font-size:13.3px;word-spacing:-1.131px;-webkit-text-stroke:0.22px;">extreme poverty, child mortality, vaccination, GDP, computing power, population, and</div>
<div class="t" style="left:60.40px;top:562.84px;transform:scaleX(0.8269);color:#111;font-size:13.3px;-webkit-text-stroke:0.22px;">CO</div>
<div class="t" style="left:77.50px;top:573.20px;transform:scaleX(0.8748);color:#222;font-size:7.8px;-webkit-text-stroke:0.25px;">2</div>
<div class="t" style="left:84.00px;top:562.84px;transform:scaleX(0.9550);color:#111;font-size:13.3px;word-spacing:-0.384px;-webkit-text-stroke:0.22px;">emissions. By aggregating these, one can estimate what I call the Implied Pace</div>
<div class="t" style="left:60.40px;top:583.24px;transform:scaleX(0.9550);color:#111;font-size:13.3px;word-spacing:-0.557px;-webkit-text-stroke:0.22px;">of Change, which is the general amount of change being experienced by humanity.</div>
<div class="t" style="left:101.00px;top:662.63px;transform:scaleX(0.9200);color:#e6398b;font-size:10.6px;font-weight:bold;font-style:italic;letter-spacing:-0.209px;word-spacing:1.200px;">YOU CAN USE THE IMPLIED PACE OF CHANGE TO BE WISER AT PREDICTING CHANGE</div>
<div class="t" style="left:60.40px;top:683.13px;transform:scaleX(0.9200);color:#e6398b;font-size:10.6px;font-weight:bold;font-style:italic;letter-spacing:0.094px;word-spacing:1.200px;">AND MORE LIKELY TO CONVINCE OTHER PEOPLE THAT IT IS TIME FOR ACTION.</div>
<div class="t" style="left:16.10px;top:577.00px;transform:scaleX(0.8649);color:#666;font-size:10.4px;-webkit-text-stroke:0.15px;">92</div>
<div class="t" style="left:1255.00px;top:577.00px;transform:scaleX(0.8649);color:#666;font-size:10.4px;-webkit-text-stroke:0.15px;">93</div>
<div class="t" style="left:24.96px;top:425.50px;color:#626264;transform:rotate(90deg) scaleX(0.8600);font-size:9.4px;letter-spacing:1.507px;-webkit-text-stroke:0.18px;">CREATE THE FUTURE</div>
<div class="t" style="left:1255.44px;top:532.20px;color:#626264;transform:rotate(-90deg) scaleX(0.8600);font-size:9.4px;letter-spacing:1.612px;-webkit-text-stroke:0.18px;">THE ABILITY TO CHANGE</div>
<div class="t" style="left:859.80px;top:70.03px;transform:scaleX(0.8600);color:#1b1b1d;font-size:14.5px;font-weight:bold;letter-spacing:0.620px;">Human Progress in Selected Categories</div>
<div class="t" style="left:756.00px;top:345.74px;transform:scaleX(0.9279);color:#111;font-size:13.3px;-webkit-text-stroke:0.22px;">Results in:</div>
<div class="t" style="left:863.40px;top:377.01px;transform:scaleX(0.8600);color:#1b1b1d;font-size:14.4px;font-weight:bold;letter-spacing:0.640px;">Trend Hunter’s Implied Pace of Change</div>
<div class="t" style="left:873.00px;top:398.15px;transform:scaleX(0.7200);color:#222;font-size:11.4px;font-weight:bold;letter-spacing:0.849px;-webkit-text-stroke:0.15px;">(Each Interval = One Unit of Similar Global Change)</div>
<div class="t" style="left:756.00px;top:660.82px;transform:scaleX(0.9550);color:#111;font-size:13.3px;word-spacing:-0.698px;-webkit-text-stroke:0.22px;">In the pages that follow, you will see these intervals personified with my grandpa, my</div>
<div class="t" style="left:756.00px;top:680.74px;transform:scaleX(0.9550);color:#111;font-size:13.3px;word-spacing:-1.041px;-webkit-text-stroke:0.22px;">mom, and her nerdy son.</div>
<div class="t" style="left:765.95px;top:621.67px;transform:scaleX(0.8624);color:#111;font-size:10.9px;font-weight:bold;-webkit-text-stroke:0.15px;">1900</div>
<div class="t" style="left:927.95px;top:621.67px;transform:scaleX(0.8624);color:#111;font-size:10.9px;font-weight:bold;-webkit-text-stroke:0.15px;">1950</div>
<div class="t" style="left:1039.05px;top:621.67px;transform:scaleX(0.8624);color:#111;font-size:10.9px;font-weight:bold;-webkit-text-stroke:0.15px;">1990</div>
<div class="t" style="left:1093.75px;top:621.67px;transform:scaleX(0.8624);color:#111;font-size:10.9px;font-weight:bold;-webkit-text-stroke:0.15px;">2005</div>
<div class="t" style="left:1127.55px;top:621.67px;transform:scaleX(0.8624);color:#111;font-size:10.9px;font-weight:bold;-webkit-text-stroke:0.15px;">2015</div>
<div class="t" style="left:1159.15px;top:621.67px;transform:scaleX(0.8624);color:#111;font-size:10.9px;font-weight:bold;-webkit-text-stroke:0.15px;">2025</div>
<div class="t" style="left:843.00px;top:561.01px;transform:scaleX(1.0240);color:#111;font-size:17.5px;font-weight:bold;-webkit-text-stroke:0.6px;">+50</div>
<div class="t" style="left:977.20px;top:542.63px;transform:scaleX(1.0307);color:#111;font-size:17.5px;font-weight:bold;-webkit-text-stroke:0.6px;">+40</div>
<div class="t" style="left:1064.60px;top:511.23px;transform:scaleX(1.0279);color:#111;font-size:13.2px;font-weight:bold;-webkit-text-stroke:0.6px;">+15</div>
<div class="t" style="left:1108.80px;top:481.83px;transform:scaleX(1.0101);color:#111;font-size:13.2px;font-weight:bold;-webkit-text-stroke:0.6px;">+10</div>
<div class="t" style="left:1139.90px;top:458.50px;transform:scaleX(1.0386);color:#111;font-size:13.0px;font-weight:bold;-webkit-text-stroke:0.6px;">+8</div>
<div class="t" style="left:1158.40px;top:439.55px;transform:scaleX(1.0567);color:#111;font-size:8.8px;font-weight:bold;-webkit-text-stroke:0.6px;">+7</div>
</body>
</html>
